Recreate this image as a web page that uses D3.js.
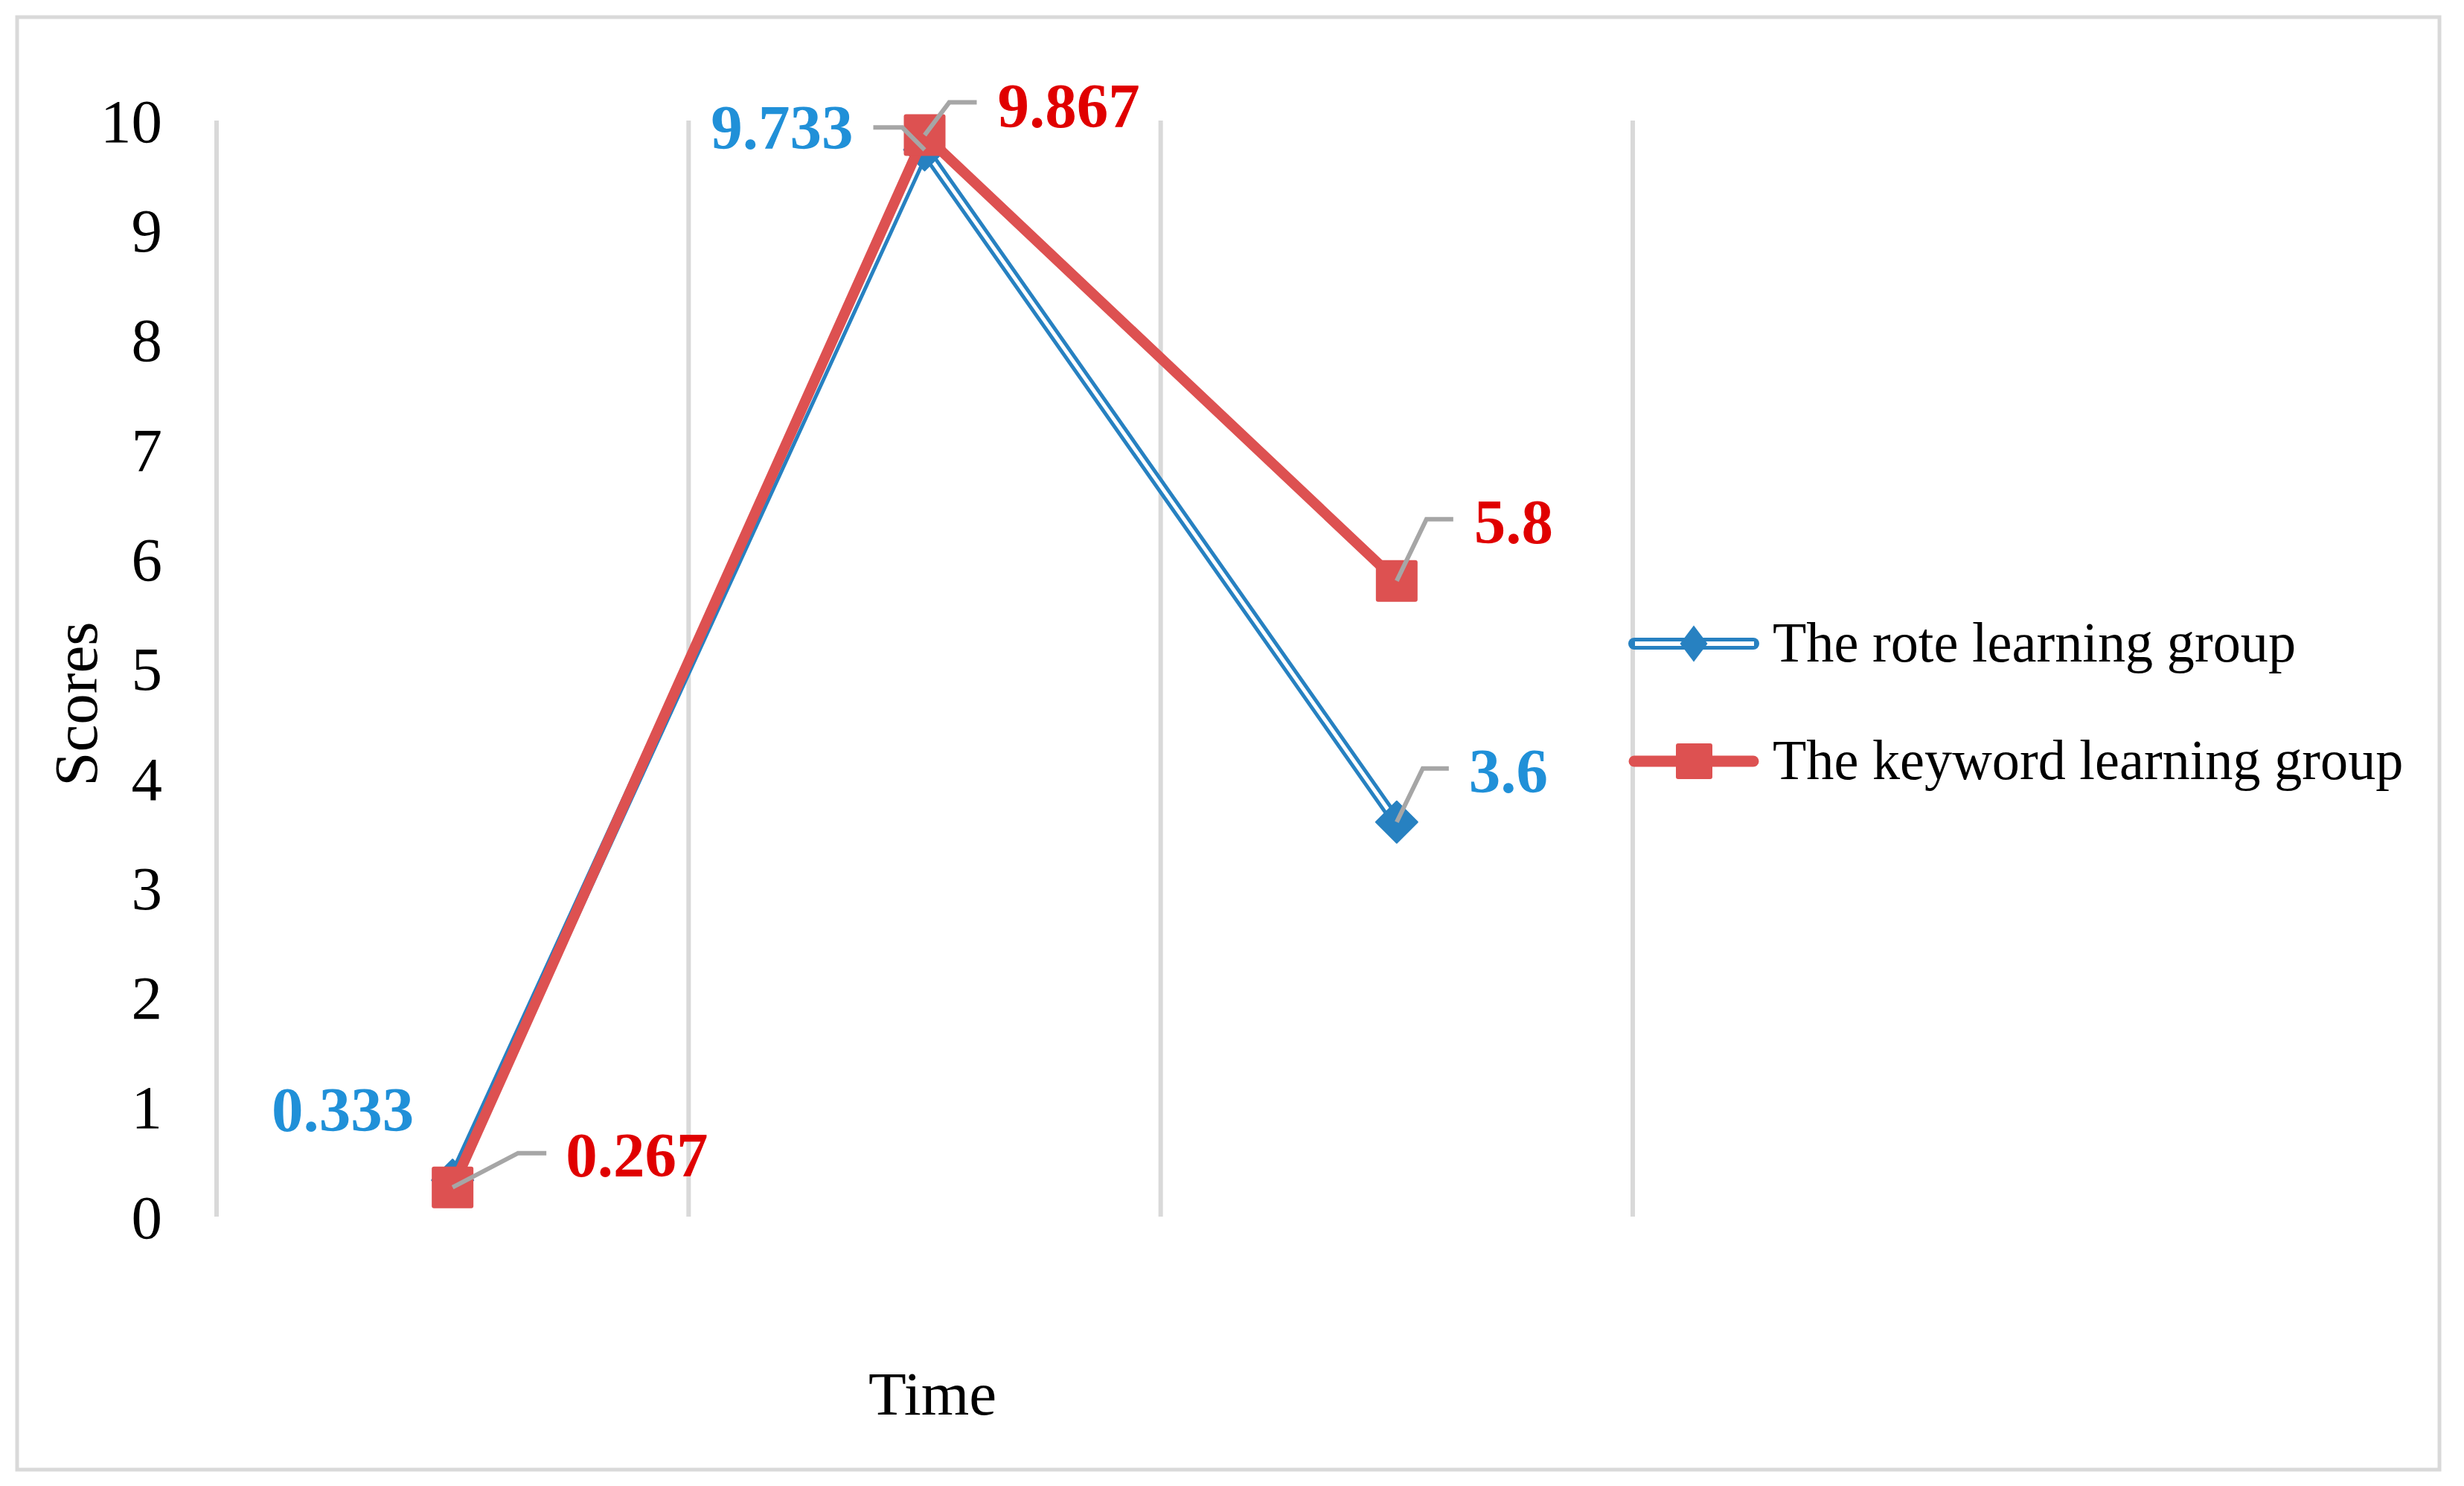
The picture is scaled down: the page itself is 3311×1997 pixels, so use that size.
<!DOCTYPE html>
<html>
<head>
<meta charset="utf-8">
<script src="https://cdn.jsdelivr.net/npm/d3@7"></script>
<style>
  body { margin: 0; background: #fff; }
  svg { display: block; font-family: "Liberation Serif", "Times New Roman", serif; }
</style>
</head>
<body>
<div id="chart"></div>
<script>
// data
const timePoints = [1, 2, 3];   // no category labels are shown on the x axis
const yTicks = [0, 1, 2, 3, 4, 5, 6, 7, 8, 9, 10];
const roteScores = [0.333, 9.733, 3.6];
const keywordScores = [0.267, 9.867, 5.8];
const seriesNames = ['The rote learning group', 'The keyword learning group'];

const W = 3311, H = 1997;
const plot = {left: 291, right: 2194, top: 162, bottom: 1635};

const blueLine = '#2781c1', blueText = '#2090d8';
const redLine = '#dd5151', redText = '#e00000';
const gridColor = '#d9d9d9', leaderColor = '#a6a6a6';

// label placement relative to each marker: leader elbow, leader end, text anchor
const roteLabelLayout = [
    {leader: null, tx: -52, ty: -66, anchor: 'end'},
    {leader: [[-30, -30], [-69, -30]], tx: -96, ty: -1, anchor: 'end'},
    {leader: [[35, -72], [70, -72]], tx: 97, ty: -40, anchor: 'start'}
];
const keywordLabelLayout = [
    {leader: [[88, -46], [126, -46]], tx: 152, ty: -15, anchor: 'start'},
    {leader: [[33, -44], [70, -44]], tx: 98, ty: -11, anchor: 'start'},
    {leader: [[40, -83], [76, -83]], tx: 104, ty: -51, anchor: 'start'}
];

const svg = d3.select('#chart')
    .append('svg')
    .attr('width', W)
    .attr('height', H);

svg.append('rect')
    .attr('width', W).attr('height', H)
    .attr('fill', '#fff');

// chart frame
svg.append('rect')
    .attr('x', 23).attr('y', 23)
    .attr('width', 3255).attr('height', 1952)
    .attr('fill', 'none')
    .attr('stroke', gridColor)
    .attr('stroke-width', 5);

const x = d3.scaleBand()
    .domain(timePoints)
    .range([plot.left, plot.right]);

const y = d3.scaleLinear()
    .domain([0, 10])
    .range([plot.bottom, plot.top]);

// vertical gridlines between categories
const gridX = d3.range(timePoints.length + 1).map(i => plot.left + i * x.step());
svg.append('g')
    .selectAll('line')
    .data(gridX)
    .enter()
    .append('line')
    .attr('x1', d => d).attr('x2', d => d)
    .attr('y1', y(10)).attr('y2', y(0))
    .attr('stroke', gridColor)
    .attr('stroke-width', 6);

// y axis: labels only
const yAxis = svg.append('g')
    .attr('transform', 'translate(226,0)')
    .call(d3.axisLeft(y).tickValues(yTicks).tickSize(0).tickPadding(8));
yAxis.select('.domain').remove();
yAxis.selectAll('text')
    .attr('font-family', '"Liberation Serif", serif')
    .attr('font-size', 83)
    .attr('fill', '#000')
    .attr('dy', '0.34em');

// axis titles
svg.append('text')
    .attr('transform', 'translate(130,946) rotate(-90)')
    .attr('text-anchor', 'middle')
    .attr('font-size', 83)
    .text('Scores');

svg.append('text')
    .attr('x', 1253)
    .attr('y', 1901)
    .attr('text-anchor', 'middle')
    .attr('font-size', 83)
    .text('Time');

const cx = d => x(d) + x.bandwidth() / 2;
const line = d3.line()
    .x((d, i) => cx(timePoints[i]))
    .y(d => y(d));

const diamond = (w, h) => `M0,${-h}L${w},0L0,${h}L${-w},0Z`;

// rote learning group: double (compound) blue line with diamonds
svg.append('path')
    .attr('d', line(roteScores))
    .attr('fill', 'none')
    .attr('stroke', blueLine)
    .attr('stroke-width', 15)
    .attr('stroke-linejoin', 'round');
svg.append('path')
    .attr('d', line(roteScores))
    .attr('fill', 'none')
    .attr('stroke', '#fff')
    .attr('stroke-width', 5)
    .attr('stroke-linejoin', 'round');
svg.append('g')
    .selectAll('path')
    .data(roteScores)
    .enter()
    .append('path')
    .attr('transform', (d, i) => `translate(${cx(timePoints[i])},${y(d)})`)
    .attr('d', diamond(28, 28))
    .attr('fill', blueLine)
    .attr('stroke', blueLine)
    .attr('stroke-width', 2)
    .attr('stroke-linejoin', 'round');

// keyword learning group: thick red line with squares
svg.append('path')
    .attr('d', line(keywordScores))
    .attr('fill', 'none')
    .attr('stroke', redLine)
    .attr('stroke-width', 14)
    .attr('stroke-linejoin', 'round');
svg.append('g')
    .selectAll('rect')
    .data(keywordScores)
    .enter()
    .append('rect')
    .attr('x', (d, i) => cx(timePoints[i]) - 28)
    .attr('y', d => y(d) - 28)
    .attr('width', 56).attr('height', 56)
    .attr('rx', 3)
    .attr('fill', redLine);

// data labels with leader lines
function drawLabels(values, layout, color) {
    const g = svg.append('g');
    values.forEach((v, i) => {
        const px = cx(timePoints[i]), py = y(v);
        const l = layout[i];
        if (l.leader) {
            const pts = [[px, py]].concat(l.leader.map(p => [px + p[0], py + p[1]]));
            g.append('path')
                .attr('d', d3.line()(pts))
                .attr('fill', 'none')
                .attr('stroke', leaderColor)
                .attr('stroke-width', 6);
        }
        g.append('text')
            .attr('x', px + l.tx)
            .attr('y', py + l.ty)
            .attr('text-anchor', l.anchor)
            .attr('font-size', 85)
            .attr('font-weight', 'bold')
            .attr('fill', color)
            .text(String(v));
    });
}
drawLabels(roteScores, roteLabelLayout, blueText);
drawLabels(keywordScores, keywordLabelLayout, redText);

// legend
const legend = svg.append('g').attr('transform', 'translate(2188,0)');
const legendRows = [865, 1023];

const rowBlue = legend.append('g').attr('transform', `translate(0,${legendRows[0]})`);
rowBlue.append('line')
    .attr('x1', 8).attr('x2', 168)
    .attr('stroke', blueLine).attr('stroke-width', 16)
    .attr('stroke-linecap', 'round');
rowBlue.append('line')
    .attr('x1', 9).attr('x2', 169)
    .attr('stroke', '#fff').attr('stroke-width', 6);
rowBlue.append('path')
    .attr('transform', 'translate(88,0)')
    .attr('d', diamond(18.5, 24.5))
    .attr('fill', blueLine);
rowBlue.append('text')
    .attr('transform', 'translate(194,24) scale(0.977,1)')
    .attr('font-size', 76)
    .text(seriesNames[0]);

const rowRed = legend.append('g').attr('transform', `translate(0,${legendRows[1]})`);
rowRed.append('line')
    .attr('x1', 8).attr('x2', 168)
    .attr('stroke', redLine).attr('stroke-width', 15)
    .attr('stroke-linecap', 'round');
rowRed.append('rect')
    .attr('x', 64).attr('y', -24)
    .attr('width', 49).attr('height', 48)
    .attr('rx', 3)
    .attr('fill', redLine);
rowRed.append('text')
    .attr('transform', 'translate(194,24) scale(0.977,1)')
    .attr('font-size', 76)
    .text(seriesNames[1]);
</script>
</body>
</html>
